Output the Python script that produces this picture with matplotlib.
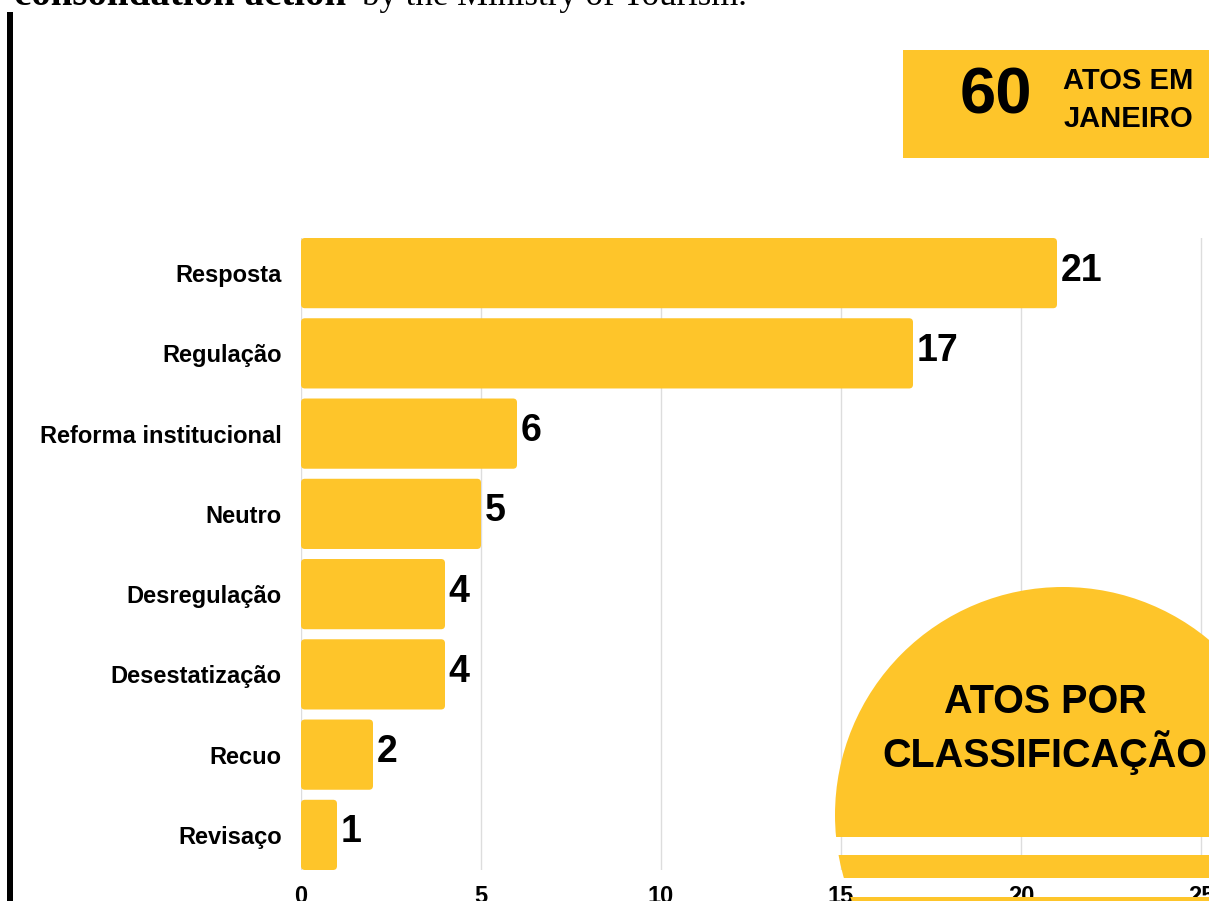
import matplotlib
matplotlib.use("Agg")
import matplotlib.pyplot as plt
from matplotlib.patches import Rectangle, Ellipse, FancyBboxPatch

W, H = 1209, 901
yellow = "#FEC52A"

categories = ["Resposta", "Regulação", "Reforma institucional", "Neutro",
              "Desregulação", "Desestatização", "Recuo", "Revisaço"]
counts = [21, 17, 6, 5, 4, 4, 2, 1]
xticks = [0, 5, 10, 15, 20, 25]
total_label = "60"
total_text = "ATOS EM\nJANEIRO"
badge_text = "ATOS POR\nCLASSIFICAÇÃO"

plt.rcParams["font.family"] = ["Liberation Sans", "DejaVu Sans"]


def fx(px):
    return px / W


def fy(py):
    return 1 - py / H


fig = plt.figure(figsize=(W / 100, H / 100), dpi=100)
fig.patch.set_facecolor("white")

ax = fig.add_axes([fx(301), fy(870), fx(1209 - 301), (870 - 238) / H])
ypos = list(range(len(categories)))
bars = ax.barh(ypos, counts, height=0.875, color=yellow, zorder=2)

# rounded bar ends
for b in bars:
    b.set_visible(False)
    ax.add_patch(FancyBboxPatch((b.get_x(), b.get_y()), b.get_width(), b.get_height(),
                                boxstyle="round,pad=0,rounding_size=0.11",
                                mutation_aspect=0.45, facecolor=yellow,
                                edgecolor="none", zorder=2))

for y, v in zip(ypos, counts):
    ax.text(v + 0.1, y - 0.03, str(v), va="center", ha="left", fontsize=27,
            fontweight="bold", color="black", zorder=3)

ax.set_xlim(0, 25 + 8 / 36)
ax.set_ylim(len(categories) - 1 + 0.4375, -0.4375)
ax.set_yticks(ypos)
ax.set_yticklabels(categories, fontsize=17, fontweight="bold", va="center_baseline")
ax.set_xticks(xticks)
ax.set_xticklabels([str(t) for t in xticks], fontsize=17, fontweight="bold")
ax.tick_params(axis="y", length=0, pad=14)
ax.tick_params(axis="x", length=0, pad=11)
ax.grid(axis="x", color="#dddddd", linewidth=1, zorder=0)
ax.set_axisbelow(True)
for s in ax.spines.values():
    s.set_visible(False)

# left black rule
fig.add_artist(Rectangle((fx(7), 0), fx(6), fy(12), transform=fig.transFigure,
                         facecolor="black", edgecolor="none"))

# cut-off caption at top
t1 = fig.text(fx(14), fy(5), "consolidation action", fontsize=28, fontweight="bold",
              family="Liberation Serif", va="baseline", ha="left")
fig.canvas.draw()
bb = t1.get_window_extent()
fig.text(bb.x1 / W + fx(16), fy(5), "by the Ministry of Tourism.", fontsize=25,
         family="Liberation Serif", va="baseline", ha="left")

# top-right total box
fig.add_artist(Rectangle((fx(903), fy(158)), fx(320), (158 - 50) / H,
                         transform=fig.transFigure, facecolor=yellow,
                         edgecolor="none", zorder=5))
fig.text(fx(996), fy(97), total_label, fontsize=47, fontweight="bold",
         ha="center", va="center", zorder=6)
fig.text(fx(1128), fy(100), total_text, fontsize=21, fontweight="bold",
         ha="center", va="center", linespacing=1.45, zorder=6)

# striped circle badge
cx, cy, r = 1063, 815, 228
bands = [(0, 837), (855, 878), (897, 901)]
for top, bot in bands:
    circ = Ellipse((fx(cx), fy(cy)), 2 * r / W, 2 * r / H, transform=fig.transFigure,
                   facecolor=yellow, edgecolor="none", zorder=5)
    clip = Rectangle((0, fy(bot)), 1, (bot - top) / H, transform=fig.transFigure)
    fig.add_artist(circ)
    circ.set_clip_path(clip)

fig.text(fx(1045), fy(729), badge_text, fontsize=28.5, fontweight="bold",
         ha="center", va="center", linespacing=1.25, zorder=6)

fig.savefig("out.png", dpi=100)
